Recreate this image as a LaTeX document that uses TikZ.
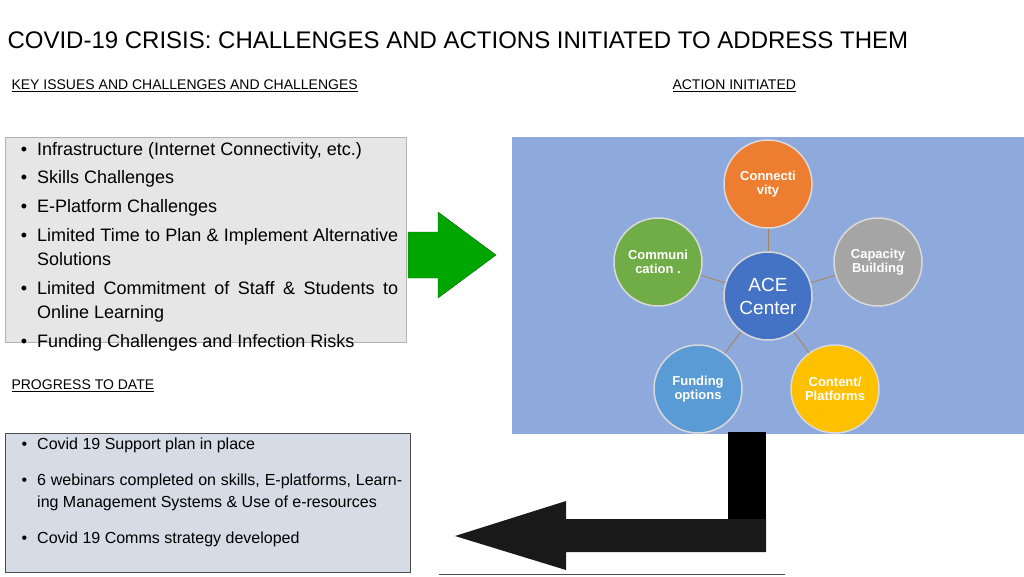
\documentclass[tikz,border=0pt]{standalone}
\usepackage{fontspec}
\setmainfont{Liberation Sans}
\usetikzlibrary{calc}
\tikzset{every node/.style={align=left}}
\tikzset{hub/.style={circle, minimum size=88pt, inner sep=0pt, draw=white!70!gray, line width=1.5pt, text=white, font=\fontsize{13}{14}\selectfont\bfseries, align=center}}
\tikzset{heading/.style={anchor=west, font=\fontsize{14}{16}\selectfont}}
\tikzset{spoke/.style={thick, brown!70!gray}}
\definecolor{panelblue}{HTML}{8EA9DB}
\definecolor{boxgray}{HTML}{E6E6E6}
\definecolor{boxblue}{HTML}{D6DCE5}
\definecolor{orng}{HTML}{ED7D31}
\definecolor{grn}{HTML}{70AD47}
\definecolor{gry}{HTML}{A5A5A5}
\definecolor{gold}{HTML}{FFC000}
\definecolor{sky}{HTML}{5B9BD5}
\definecolor{ace}{HTML}{4472C4}

\begin{document}
\begin{tikzpicture}[x=1pt, y=-1pt]
	
	% Canvas
	\useasboundingbox (0,0) rectangle (1024,576);
	
	% Title and headings
	\node[anchor=west, font=\fontsize{24}{26}\selectfont] (title) at (4,40) {COVID-19 CRISIS: CHALLENGES AND ACTIONS INITIATED TO ADDRESS THEM};
	\node[heading] (keyhead) at (8,86) {\underline{KEY ISSUES AND CHALLENGES AND CHALLENGES}};
	\node[heading] (acthead) at (669,86) {\underline{ACTION INITIATED}};
	\node[heading] (proghead) at (8,386) {\underline{PROGRESS TO DATE}};
	
	% Issues box
	\draw[fill=boxgray, draw=gray!60] (5,137) rectangle (406,342);
	\node[anchor=north west, inner sep=0pt, font=\fontsize{18}{24.6}\selectfont] (issues) at (12,142)
	{\begin{minipage}{386pt}
	\begin{itemize}\setlength{\itemsep}{0pt}\setlength{\parsep}{0pt}\setlength{\topsep}{0pt}\setlength{\leftmargin}{22pt}\setlength{\labelsep}{10pt}
	\item Infrastructure (Internet Connectivity, etc.)
	\item Skills Challenges
	\item E-Platform Challenges
	\item Limited Time to Plan \& Implement Alternative Solutions
	\item Limited Commitment of Staff \& Students to Online Learning
	\item Funding Challenges and Infection Risks
	\end{itemize}\end{minipage}};
	
	% Green arrow
	\draw[fill=green!65!black, draw=green!40!black] (408,232) -- (438,232) -- (438,212) -- (496,255) -- (438,298) -- (438,278) -- (408,278) -- cycle;
	
	% Action panel
	\fill[panelblue] (512,137) rectangle (1024,434);
	\node[hub, fill=ace, font=\fontsize{19}{23}\selectfont] (center) at (768,296) {ACE\\Center};
	\node[hub, fill=orng] (conn) at (768,184) {Connecti\\vity};
	\node[hub, fill=gry] (cap) at (878,262) {Capacity\\Building};
	\node[hub, fill=gold] (cont) at (835,389) {Content/\\Platforms};
	\node[hub, fill=sky] (fund) at (698,389) {Funding\\options};
	\node[hub, fill=grn] (comm) at (658,262) {Communi\\cation .};
	\foreach \n in {conn, cap, cont, fund, comm}
		\draw[spoke] (center) -- (\n);
	
	% Progress box
	\draw[fill=boxblue, draw=black!70] (5,433) rectangle (410,572);
	\node[anchor=north west, inner sep=0pt, font=\fontsize{16}{22}\selectfont] (progress) at (12,438)
	{\begin{minipage}{390pt}
	\begin{itemize}\setlength{\itemsep}{10pt}\setlength{\parsep}{0pt}\setlength{\topsep}{0pt}\setlength{\leftmargin}{22pt}\setlength{\labelsep}{10pt}
	\item Covid 19 Support plan in place
	\item 6 webinars completed on skills, E-platforms, Learning Management Systems \& Use of e-resources
	\item Covid 19 Comms strategy developed
	\end{itemize}\end{minipage}};
	
	% Black return arrow
	\fill[black] (728,432) rectangle (766,523);
	\fill[black!90] (766,519) -- (766,552) -- (566,552) -- (566,570) -- (455,536) -- (566,501) -- (566,519) -- cycle;
	\draw[thick, black!70] (439,574) -- (785,574);
	
\end{tikzpicture}
\end{document}
